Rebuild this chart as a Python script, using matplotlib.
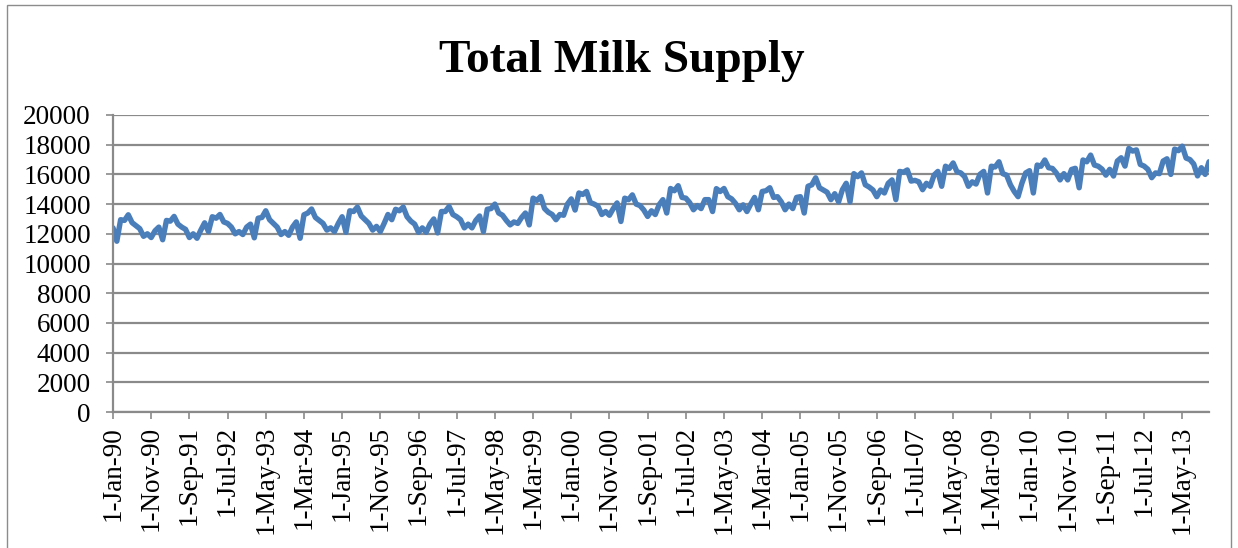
import matplotlib.pyplot as plt
from matplotlib.patches import Rectangle

# Monthly total milk supply, Jan 1990 - Dec 2013
supply_1990 = [12400, 11500, 12950, 12900, 13280, 12750, 12550, 12350, 11830, 12000, 11750, 12200]
supply_1991 = [12450, 11600, 12900, 12850, 13170, 12650, 12450, 12300, 11750, 12000, 11700, 12250]
supply_1992 = [12740, 12150, 13150, 13050, 13300, 12800, 12700, 12450, 12000, 12150, 11950, 12450]
supply_1993 = [12650, 11730, 13050, 13100, 13550, 12950, 12700, 12450, 11950, 12150, 11900, 12450]
supply_1994 = [12800, 11700, 13280, 13400, 13670, 13100, 12900, 12700, 12250, 12400, 12150, 12700]
supply_1995 = [13150, 12100, 13550, 13500, 13800, 13200, 12950, 12700, 12250, 12500, 12150, 12700]
supply_1996 = [13300, 12950, 13650, 13550, 13800, 13150, 12850, 12650, 12100, 12400, 12100, 12650]
supply_1997 = [13000, 12060, 13500, 13500, 13840, 13300, 13150, 12950, 12400, 12650, 12400, 12900]
supply_1998 = [13200, 12150, 13650, 13700, 14000, 13400, 13250, 12900, 12600, 12800, 12700, 13100]
supply_1999 = [13400, 12600, 14400, 14250, 14510, 13700, 13450, 13300, 12950, 13300, 13250, 14000]
supply_2000 = [14350, 13600, 14750, 14650, 14850, 14100, 14000, 13850, 13300, 13500, 13250, 13700]
supply_2001 = [14080, 12830, 14400, 14300, 14620, 14000, 13900, 13600, 13170, 13550, 13300, 13950]
supply_2002 = [14300, 13400, 15050, 14900, 15240, 14450, 14400, 14100, 13620, 13900, 13700, 14300]
supply_2003 = [14300, 13500, 15040, 14850, 15050, 14500, 14350, 14050, 13620, 13950, 13500, 14000]
supply_2004 = [14450, 13620, 14850, 14900, 15100, 14450, 14500, 14150, 13620, 14000, 13700, 14450]
supply_2005 = [14500, 13400, 15200, 15300, 15770, 15100, 14950, 14800, 14300, 14700, 14150, 14970]
supply_2006 = [15400, 14150, 16050, 15850, 16100, 15300, 15150, 14950, 14500, 14950, 14750, 15400]
supply_2007 = [15630, 14300, 16200, 16150, 16300, 15550, 15600, 15500, 14970, 15400, 15200, 15950]
supply_2008 = [16200, 15200, 16550, 16400, 16770, 16180, 16100, 15850, 15200, 15500, 15350, 16000]
supply_2009 = [16200, 14750, 16550, 16500, 16850, 16050, 15950, 15300, 14850, 14500, 15400, 16100]
supply_2010 = [16250, 14750, 16630, 16550, 16970, 16450, 16400, 16100, 15630, 16050, 15630, 16330]
supply_2011 = [16410, 15100, 16970, 16850, 17300, 16630, 16550, 16350, 15950, 16340, 15890, 16900]
supply_2012 = [17120, 16560, 17750, 17570, 17650, 16670, 16560, 16340, 15780, 16100, 16050, 16900]
supply_2013 = [17050, 16000, 17700, 17600, 17900, 17100, 17000, 16700, 15900, 16450, 16000, 16850]

supply = (supply_1990 + supply_1991 + supply_1992 + supply_1993 + supply_1994 + supply_1995
          + supply_1996 + supply_1997 + supply_1998 + supply_1999 + supply_2000 + supply_2001
          + supply_2002 + supply_2003 + supply_2004 + supply_2005 + supply_2006 + supply_2007
          + supply_2008 + supply_2009 + supply_2010 + supply_2011 + supply_2012 + supply_2013)

# category axis labels, one every 10 months
tick_labels = ['1-Jan-90', '1-Nov-90', '1-Sep-91', '1-Jul-92', '1-May-93', '1-Mar-94',
               '1-Jan-95', '1-Nov-95', '1-Sep-96', '1-Jul-97', '1-May-98', '1-Mar-99',
               '1-Jan-00', '1-Nov-00', '1-Sep-01', '1-Jul-02', '1-May-03', '1-Mar-04',
               '1-Jan-05', '1-Nov-05', '1-Sep-06', '1-Jul-07', '1-May-08', '1-Mar-09',
               '1-Jan-10', '1-Nov-10', '1-Sep-11', '1-Jul-12', '1-May-13']
y_ticks = list(range(0, 20001, 2000))

plt.rcParams['font.family'] = ['Liberation Serif', 'DejaVu Serif']

fig = plt.figure(figsize=(12.38, 5.48), dpi=100)
fig.patches.append(Rectangle((7 / 1238, -0.01), 1224 / 1238, 1 - 5 / 548 + 0.01,
                             transform=fig.transFigure, fill=False,
                             edgecolor='#8c8c8c', linewidth=1.0))

ax = fig.add_axes([113 / 1238, 1 - 412 / 548, 1096 / 1238, 297 / 548])

months = list(range(len(supply)))
ax.plot(months, supply, color='#4a7ebb', linewidth=3.9,
        solid_joinstyle='round', solid_capstyle='round')

ax.set_xlim(0, len(supply) - 1)
ax.set_ylim(0, 20000)
ax.set_yticks(y_ticks)
ax.set_yticklabels([str(v) for v in y_ticks], fontsize=19.5)
ax.set_xticks(list(range(0, 10 * len(tick_labels), 10)))
ax.set_xticklabels(tick_labels, rotation=90, fontsize=19.5)

ax.grid(axis='y', color='#8a8a8a', linewidth=1.6)
ax.set_axisbelow(True)
for side in ['top', 'right']:
    ax.spines[side].set_visible(False)
for side in ['left', 'bottom']:
    ax.spines[side].set_color('#8a8a8a')
    ax.spines[side].set_linewidth(1.6)
ax.tick_params(axis='both', direction='out', length=5, width=1.2, color='#8a8a8a')
ax.tick_params(axis='y', pad=11)
ax.tick_params(axis='x', pad=5)

fig.text(622 / 1238, 1 - 61 / 548, 'Total Milk Supply', ha='center', va='center',
         fontsize=34, fontweight='bold')

fig.savefig('out.png', dpi=100)
